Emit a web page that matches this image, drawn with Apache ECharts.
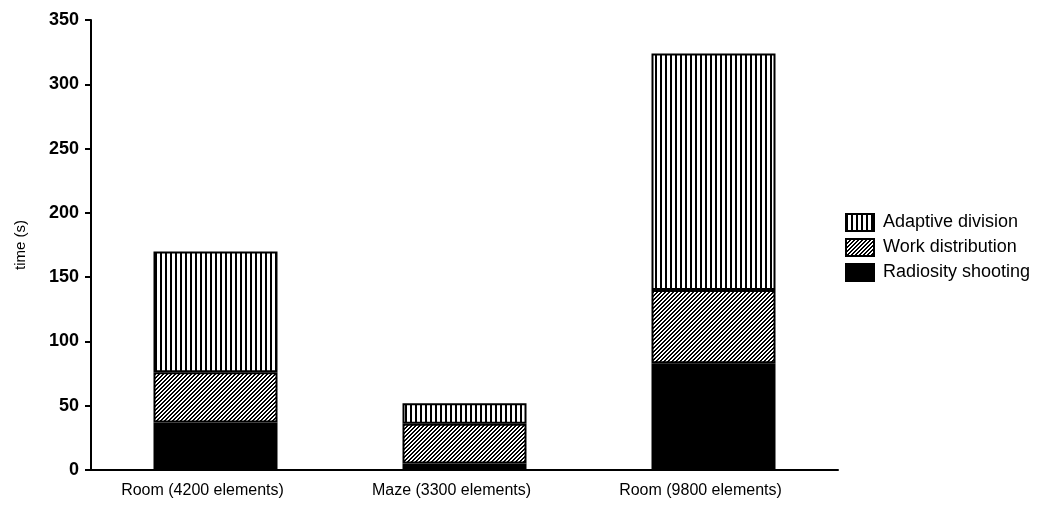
<!DOCTYPE html>
<html>
<head>
<meta charset="utf-8">
<script src="https://cdn.jsdelivr.net/npm/echarts@6/dist/echarts.min.js"></script>
<style>
  html, body { margin: 0; padding: 0; background: #fff; }
  #chart { width: 1039px; height: 509px; }
</style>
</head>
<body>
<div id="chart"></div>
<script>
// scenes on the x axis
var categories = ["Room (4200 elements)", "Maze (3300 elements)", "Room (9800 elements)"];
// time per phase, seconds (stacked bottom to top)
var radiosityShooting = [37, 5, 83];
var workDistribution = [39, 31, 57];
var adaptiveDivision = [94, 16, 184];
var yTicks = [0, 50, 100, 150, 200, 250, 300, 350];

// hatch fills, drawn pixel by pixel on a tiny canvas
function makePattern(size, test) {
  var c = document.createElement("canvas");
  c.width = size;
  c.height = size;
  var ctx = c.getContext("2d");
  ctx.fillStyle = "#fff";
  ctx.fillRect(0, 0, size, size);
  ctx.fillStyle = "#000";
  for (var x = 0; x < size; x++) {
    for (var y = 0; y < size; y++) {
      if (test(x, y)) ctx.fillRect(x, y, 1, 1);
    }
  }
  return { image: c, repeat: "repeat" };
}
var vertLines = makePattern(5, function (x, y) { return x % 5 < 2; });
var diagLines = makePattern(4, function (x, y) { return (x + y) % 4 < 2; });

var font = "'Liberation Sans', Arial, sans-serif";
var myChart = echarts.init(document.getElementById("chart"));
myChart.setOption({
  animation: false,
  grid: { left: 91, right: 201, top: 20, bottom: 39 },
  legend: {
    orient: "vertical",
    left: 840,
    top: 208,
    icon: "rect",
    itemWidth: 28,
    itemHeight: 17,
    itemGap: 6,
    data: ["Adaptive division", "Work distribution", "Radiosity shooting"],
    textStyle: { fontFamily: font, fontSize: 18, color: "#000", padding: [0, 0, 0, 4] },
  },
  xAxis: {
    type: "category",
    data: categories,
    axisLine: { lineStyle: { color: "#000", width: 2 } },
    axisTick: { show: false },
    axisLabel: { fontFamily: font, fontSize: 16, color: "#000", margin: 13, padding: [0, 26, 0, 0] },
  },
  yAxis: {
    type: "value",
    min: yTicks[0],
    max: yTicks[yTicks.length - 1],
    interval: 50,
    name: "time (s)",
    nameLocation: "middle",
    nameGap: 63,
    nameTextStyle: { fontFamily: font, fontSize: 15, color: "#000" },
    axisLine: { show: true, lineStyle: { color: "#000", width: 2 } },
    axisTick: { show: true, length: 6, lineStyle: { color: "#000", width: 2 } },
    axisLabel: { fontFamily: font, fontSize: 18, fontWeight: "bold", color: "#000", margin: 12 },
    splitLine: { show: false },
  },
  series: [
    {
      name: "Radiosity shooting",
      type: "bar",
      stack: "t",
      barWidth: 124,
      data: radiosityShooting,
      itemStyle: { color: "#000", borderColor: "#000", borderWidth: 2 },
    },
    {
      name: "Work distribution",
      type: "bar",
      stack: "t",
      barWidth: 124,
      data: workDistribution,
      itemStyle: { color: diagLines, borderColor: "#000", borderWidth: 2 },
    },
    {
      name: "Adaptive division",
      type: "bar",
      stack: "t",
      barWidth: 124,
      data: adaptiveDivision,
      itemStyle: { color: vertLines, borderColor: "#000", borderWidth: 2 },
    },
  ],
});
</script>
</body>
</html>
